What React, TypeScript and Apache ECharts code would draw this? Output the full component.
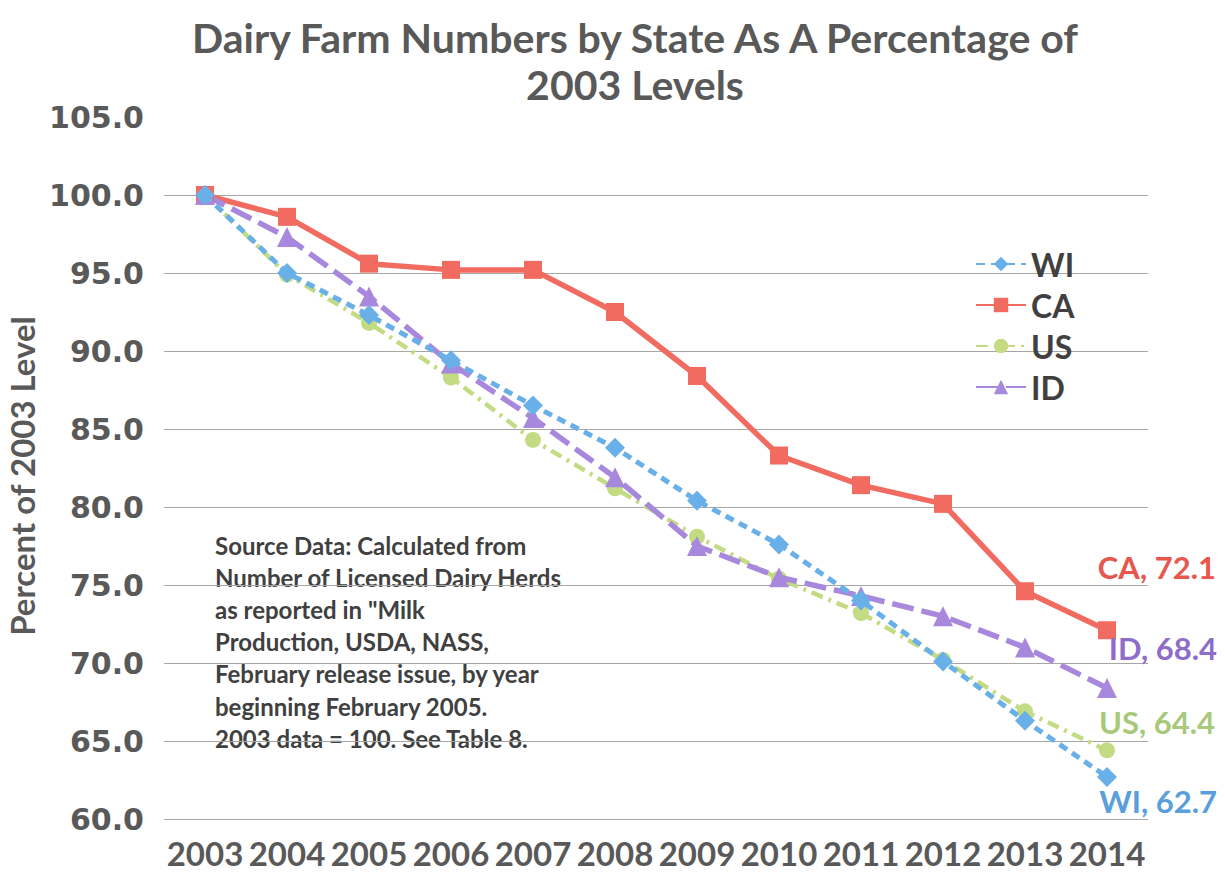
import React, { useEffect, useRef } from "react";
import * as echarts from "echarts";

const years = ["2003", "2004", "2005", "2006", "2007", "2008", "2009", "2010", "2011", "2012", "2013", "2014"];
const wiValues = [100, 95.0, 92.3, 89.4, 86.5, 83.8, 80.4, 77.6, 74.0, 70.1, 66.3, 62.7];
const caValues = [100, 98.6, 95.6, 95.2, 95.2, 92.5, 88.4, 83.3, 81.4, 80.2, 74.6, 72.1];
const usValues = [100, 94.9, 91.8, 88.3, 84.3, 81.2, 78.1, 75.4, 73.2, 70.2, 66.9, 64.4];
const idValues = [100, 97.3, 93.5, 89.2, 85.7, 81.9, 77.5, 75.5, 74.3, 73.0, 71.0, 68.4];
const gridValues = [60, 65, 70, 75, 80, 85, 90, 95, 100];

const titleLines = ["Dairy Farm Numbers by State As A Percentage of", "2003 Levels"];
const yAxisTitle = "Percent of 2003 Level";
const noteLines = [
  "Source Data: Calculated from",
  "Number of Licensed Dairy Herds",
  "as reported in \"Milk",
  "Production, USDA, NASS,",
  "February release issue, by year",
  "beginning February 2005.",
  "2003 data = 100. See Table 8.",
];

const FONT = "Lato, 'Open Sans', sans-serif";

function lastLabel(values: number[], name: string, color: string, dy: number) {
  return values.map((v, i) =>
    i === values.length - 1
      ? {
          value: v,
          label: {
            show: true,
            position: "right",
            distance: 5,
            align: "right",
            verticalAlign: "middle",
            offset: [95, dy],
            formatter: `${name}, ${v.toFixed(1)}`,
            color,
            fontFamily: FONT,
            fontWeight: "bold",
            fontSize: 31,
          },
        }
      : v
  );
}

export default function App() {
  const ref = useRef<HTMLDivElement>(null);
  useEffect(() => {
    if (!ref.current) return;
    const chart = echarts.init(ref.current, null, { renderer: "svg" });
    const wiColor = "#6AB0E8";
    const caColor = "#F26B60";
    const usColor = "#C3DC84";
    const idColor = "#A888DC";
    chart.setOption({
      animation: false,
      backgroundColor: "#ffffff",
      grid: { left: 164, right: 77, top: 117, bottom: 65 },
      legend: {
        orient: "vertical",
        left: 970,
        top: 243,
        itemWidth: 50,
        itemHeight: 18,
        itemGap: 9,
        textStyle: { fontFamily: FONT, fontWeight: "bold", fontSize: 32, color: "#404040" },
        data: ["WI", "CA", "US", "ID"],
      },
      xAxis: {
        type: "category",
        data: years,
        boundaryGap: true,
        axisLine: { show: false },
        axisTick: { show: false },
        axisLabel: {
          fontFamily: FONT,
          fontWeight: "bold",
          fontSize: 33,
          color: "#595959",
          margin: 17,
          interval: 0,
        },
      },
      yAxis: {
        type: "value",
        min: 60,
        max: 105,
        interval: 5,
        axisLine: { show: false },
        axisTick: { show: false },
        splitLine: { show: false },
        axisLabel: {
          formatter: (v: number) => v.toFixed(1),
          fontFamily: "'DejaVu Sans', sans-serif",
          fontWeight: "bold",
          fontSize: 30,
          color: "#595959",
          margin: 20,
        },
      },
      graphic: [
        ...titleLines.map((t, i) => ({
          type: "text",
          x: 635,
          y: 37 + i * 47,
          style: {
            text: t,
            fontFamily: FONT,
            fontWeight: "bold",
            fontSize: 41,
            fill: "#595959",
            textAlign: "center",
            textVerticalAlign: "middle",
          },
        })),
        {
          type: "text",
          x: 22,
          y: 476,
          rotation: Math.PI / 2,
          style: {
            text: yAxisTitle,
            fontFamily: FONT,
            fontWeight: "bold",
            fontSize: 33,
            fill: "#595959",
            textAlign: "center",
            textVerticalAlign: "middle",
          },
        },
        ...noteLines.map((t, i) => ({
          type: "text",
          x: 215,
          y: 545 + i * 32.2,
          style: {
            text: t,
            fontFamily: FONT,
            fontWeight: "bold",
            fontSize: 24,
            fill: "#404040",
            textAlign: "left",
            textVerticalAlign: "middle",
          },
        })),
      ],
      series: [
        {
          name: "WI",
          type: "line",
          data: lastLabel(wiValues, "WI", "#5A9FDC", 24),
          color: wiColor,
          symbol: "diamond",
          symbolSize: 20,
          lineStyle: { width: 5, type: [9, 6], color: wiColor },
          itemStyle: { color: wiColor },
          z: 4,
          markLine: {
            silent: true,
            symbol: "none",
            label: { show: false },
            lineStyle: { color: "#A6A6A6", width: 1, type: "solid" },
            data: gridValues.map((g) => ({ yAxis: g })),
            z: 0,
          },
        },
        {
          name: "CA",
          type: "line",
          data: lastLabel(caValues, "CA", "#E8574E", -63),
          color: caColor,
          symbol: "rect",
          symbolSize: 18,
          lineStyle: { width: 5.5, color: caColor },
          itemStyle: { color: caColor },
          z: 3,
        },
        {
          name: "US",
          type: "line",
          data: lastLabel(usValues, "US", "#A9C97A", -28),
          color: usColor,
          symbol: "circle",
          symbolSize: 16,
          lineStyle: { width: 4.5, type: [12, 6, 3, 6], color: usColor },
          itemStyle: { color: usColor },
          z: 2,
        },
        {
          name: "ID",
          type: "line",
          data: lastLabel(idValues, "ID", "#8E6CC9", -40),
          color: idColor,
          symbol: "triangle",
          symbolSize: 20,
          lineStyle: { width: 5.5, type: [22, 8], color: idColor },
          itemStyle: { color: idColor },
          z: 3,
        },
      ],
    });
    return () => chart.dispose();
  }, []);
  return (
    <div
      ref={ref}
      style={{ position: "fixed", left: 0, top: 0, width: 1225, height: 884, background: "#fff" }}
    />
  );
}
